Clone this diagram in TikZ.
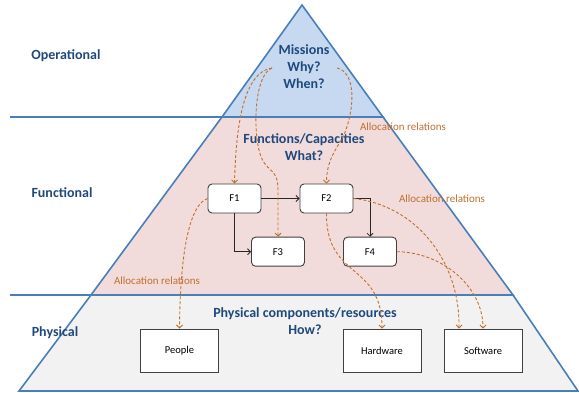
\documentclass[tikz,border=0pt]{standalone}
\usepackage{fontspec}
\setmainfont{Carlito}
\usetikzlibrary{arrows.meta}
\definecolor{edgeblue}{HTML}{4A7EBB}
\definecolor{topfill}{HTML}{C6D9F1}
\definecolor{midfill}{HTML}{F2DCDB}
\definecolor{botfill}{HTML}{F2F2F2}
\definecolor{titleblue}{HTML}{1F497D}
\definecolor{alloccol}{HTML}{C0702E}
\definecolor{boxgray}{HTML}{404040}
\tikzset{
  layer/.style={fill=#1, draw=edgeblue, line width=1.6pt, line join=miter},
  sepline/.style={draw=edgeblue, line width=1.6pt},
  lvl/.style={font=\bfseries\fontsize{14}{17}\selectfont, text=titleblue, align=center, inner sep=0pt},
  alabel/.style={font=\fontsize{11}{13}\selectfont, text=alloccol, inner sep=0pt},
  fbox/.style={draw=boxgray, line width=0.9pt, rounded corners=4pt, fill=white, minimum width=53pt, minimum height=29pt, inner sep=0pt, font=\fontsize{10.5}{12}\selectfont},
  rbox/.style={draw=boxgray, line width=0.9pt, fill=white, minimum width=78pt, minimum height=43pt, inner sep=0pt, font=\fontsize{10.5}{12}\selectfont},
  tip/.style={-{Straight Barb[length=3pt,width=6pt]}},
  flow/.style={draw=black!85, line width=0.8pt, tip},
  alloc/.style={draw=alloccol, line width=0.9pt, dash pattern=on 3pt off 2pt, tip}
}
\begin{document}
\begin{tikzpicture}[x=1pt,y=-1pt]
\useasboundingbox (0,0) rectangle (579,393);
% layers
\path[layer=botfill] (19,391) -- (578,391) -- (513,295) -- (91,295) -- cycle;
\path[layer=midfill] (91,295) -- (513,295) -- (383,117) -- (222,117) -- cycle;
\path[layer=topfill] (222,117) -- (383,117) -- (302,5) -- cycle;
\draw[sepline] (10,117) -- (383,117);
\draw[sepline] (10,295) -- (513,295);
% level labels
\node[lvl] (op) at (66,56) {Operational};
\node[lvl] (fu) at (62,193) {Functional};
\node[lvl] (ph) at (55,333) {Physical};
% centre texts
\node[lvl] (mis) at (304,67) {Missions\\Why?\\When?};
\node[lvl] (fun) at (304,147) {Functions/Capacities\\What?};
\node[lvl] (phc) at (305,321) {Physical components/resources\\How?};
% function boxes
\node[fbox] (F1) at (234.5,198.5) {F1};
\node[fbox] (F2) at (326.5,198.5) {F2};
\node[fbox] (F3) at (278,251.7) {F3};
\node[fbox] (F4) at (370,251.7) {F4};
% physical boxes
\node[rbox] (P) at (179.5,350.5) {People};
\node[rbox] (H) at (382,350.5) {Hardware};
\node[rbox] (S) at (483,350.5) {Software};
% flows
\draw[flow] (F1.east) -- (F2.west);
\draw[flow] (F1.south) |- (F3.west);
\draw[flow] (F2.east) -| (F4.north);
% allocation relations
\coordinate (m1) at (272,68);
\coordinate (m2) at (337,68);
\coordinate (s1) at ([xshift=-24pt]S.north);
\draw[alloc] (m1) .. controls (245,72) and (236,120) .. (F1.north);
\draw[alloc] (m1) .. controls (255,75) and (253,125) .. (259,150) .. controls (265,175) and (278,165) .. (278,190) -- (F3.north);
\draw[alloc] (m2) .. controls (355,72) and (356,105) .. (344,135) .. controls (336,150) and (326.5,160) .. (F2.north);
\draw[alloc] (F1.west) .. controls (188,205) and (180,260) .. (P.north);
\draw[alloc] (F2.south) .. controls (326,280) and (382,262) .. (H.north);
\draw[alloc] (F2.east) .. controls (415,205) and (460,260) .. (s1);
\draw[alloc] (F4.east) .. controls (440,252) and (483,285) .. (S.north);
% labels
\node[alabel] (al1) at (403,127) {Allocation relations};
\node[alabel] (al2) at (442,199) {Allocation relations};
\node[alabel] (al3) at (157,281) {Allocation relations};
\end{tikzpicture}
\end{document}
